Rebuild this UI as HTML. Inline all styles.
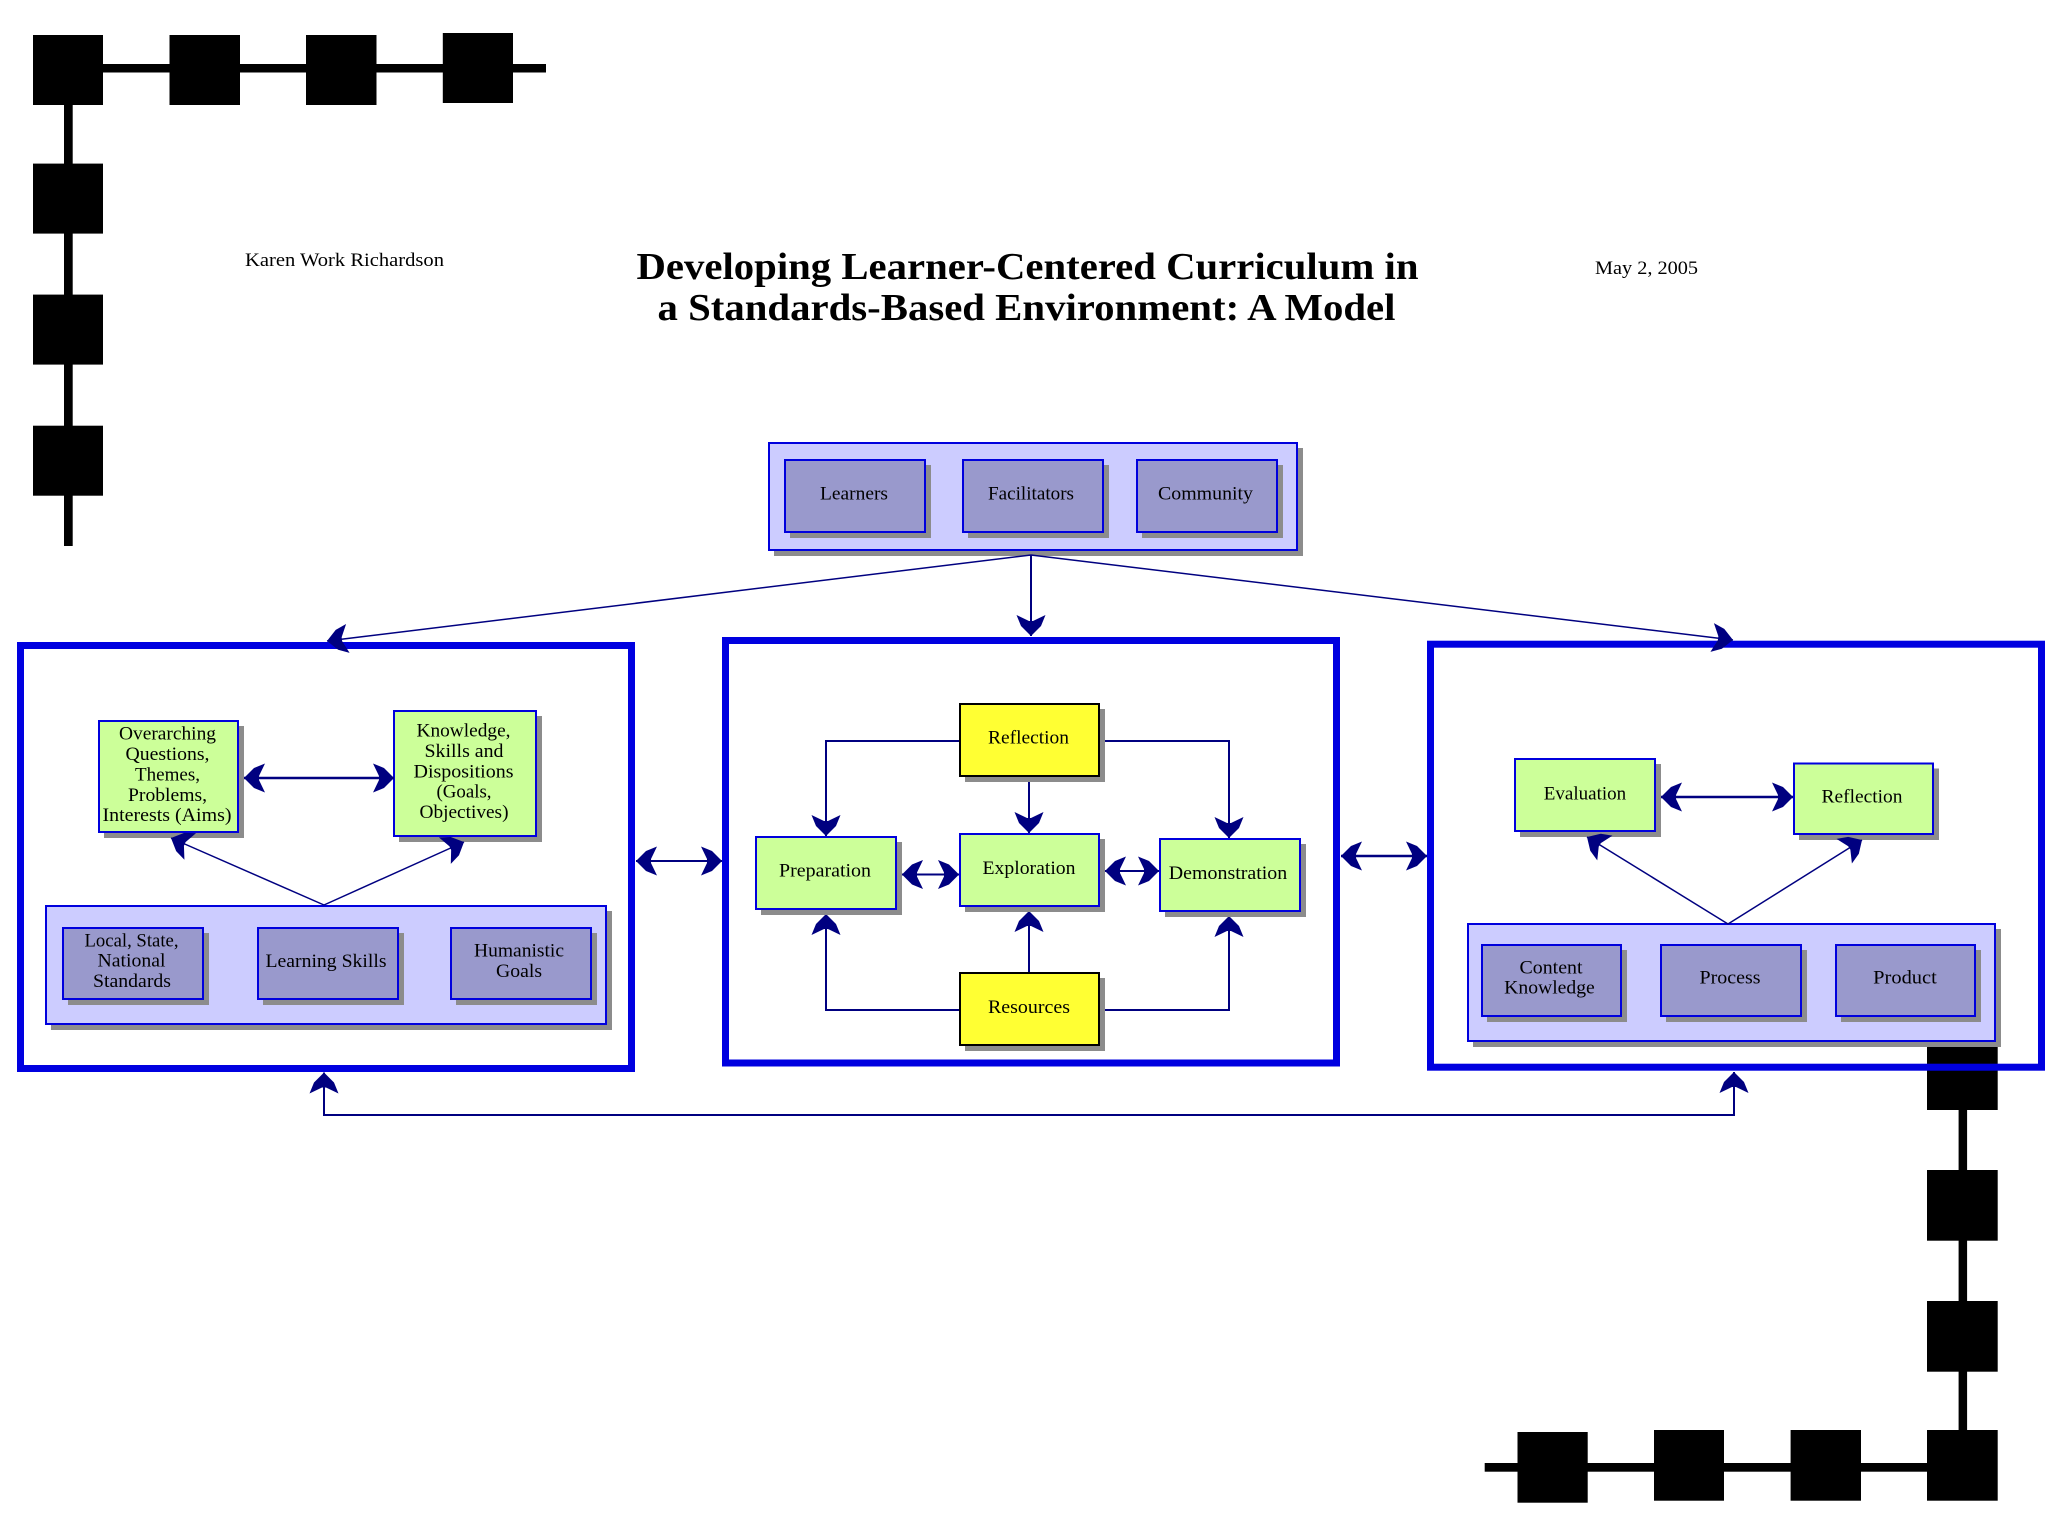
<!DOCTYPE html>
<html lang="en"><head><meta charset="utf-8"><title>Developing Learner-Centered Curriculum</title>
<style>
html,body{margin:0;padding:0;background:#fff}
svg{display:block;filter:blur(.35px)}
text{font-family:"Liberation Serif",serif;fill:#000;text-anchor:middle}
.t{font-size:19px}
.h{font-size:38px;font-weight:bold}
.s{fill:#8c8c8c}
.l{fill:#ccccff;stroke:#0000dd;stroke-width:2}
.b{fill:#9999cc;stroke:#0000dd;stroke-width:2}
.g{fill:#ccff99;stroke:#0000dd;stroke-width:2}
.y{fill:#ffff33;stroke:#000;stroke-width:2}
.f{fill:none;stroke:#0000e0;stroke-width:7}
.a{fill:none;stroke:#000080;stroke-width:2}
.d{fill:none;stroke:#000080;stroke-width:2.6}
.n{fill:none;stroke:#000080;stroke-width:1.5}
</style></head><body>
<svg width="2048" height="1536" viewBox="0 0 2048 1536" xmlns="http://www.w3.org/2000/svg">
<defs>
<marker id="m" markerUnits="userSpaceOnUse" markerWidth="40" markerHeight="40" refX="30" refY="20" orient="auto-start-reverse" viewBox="0 0 40 40" overflow="visible">
<path d="M30 20 L20 10 L9 5.5 L15 18 L15 22 L9 34.5 L20 30 Z" fill="#000080"/>
</marker>
</defs>
<rect width="2048" height="1536" fill="#fff"/>

<!-- top-left ornament -->
<g fill="#000">
<rect x="33" y="64" width="513" height="8.5"/>
<rect x="64" y="35" width="8.7" height="511"/>
<rect x="33" y="35" width="70" height="70"/>
<rect x="169.5" y="35" width="70.5" height="70"/>
<rect x="306" y="35" width="70.5" height="70"/>
<rect x="442.8" y="33" width="70.2" height="70"/>
<rect x="33" y="163.6" width="70" height="70"/>
<rect x="33" y="294.6" width="70" height="70"/>
<rect x="33" y="425.7" width="70" height="70"/>
<!-- bottom-right ornament -->
<rect x="1484.7" y="1463" width="480" height="8.7"/>
<rect x="1958.6" y="1060" width="8.5" height="390"/>
<rect x="1927" y="1046" width="70.7" height="64"/>
<rect x="1927" y="1170" width="70.7" height="70.7"/>
<rect x="1927" y="1301" width="70.7" height="70.7"/>
<rect x="1927" y="1430" width="70.7" height="70.7"/>
<rect x="1790.6" y="1430" width="70.4" height="70.7"/>
<rect x="1654" y="1430" width="70" height="70.7"/>
<rect x="1517.5" y="1432" width="70.2" height="70.7"/>
</g>

<!-- headings -->
<text class="t" x="344.5" y="266" textLength="199" lengthAdjust="spacingAndGlyphs">Karen Work Richardson</text>
<text class="t" x="1646.5" y="274" textLength="103" lengthAdjust="spacingAndGlyphs">May 2, 2005</text>
<text class="h" x="1027.5" y="279" textLength="782" lengthAdjust="spacingAndGlyphs">Developing Learner-Centered Curriculum in</text>
<text class="h" x="1026.5" y="320" textLength="738" lengthAdjust="spacingAndGlyphs">a Standards-Based Environment: A Model</text>

<!-- top group -->
<rect class="s" x="774" y="448" width="529" height="108"/>
<rect class="l" x="769" y="443" width="528" height="107"/>
<rect class="s" x="790" y="465" width="141" height="73"/><rect class="b" x="785" y="460" width="140" height="72"/>
<rect class="s" x="968" y="465" width="141" height="73"/><rect class="b" x="963" y="460" width="140" height="72"/>
<rect class="s" x="1142" y="465" width="141" height="73"/><rect class="b" x="1137" y="460" width="140" height="72"/>
<text class="t" x="854" y="499.5" textLength="68" lengthAdjust="spacingAndGlyphs">Learners</text>
<text class="t" x="1031" y="499.5" textLength="86" lengthAdjust="spacingAndGlyphs">Facilitators</text>
<text class="t" x="1205.5" y="499.5" textLength="95" lengthAdjust="spacingAndGlyphs">Community</text>

<!-- frames -->
<rect class="f" x="20.5" y="645.5" width="611" height="423"/>
<rect class="f" x="725.5" y="640.5" width="611" height="422.5"/>
<rect class="f" x="1430.5" y="644.2" width="611" height="423"/>

<!-- top connectors -->
<line class="n" x1="1031" y1="555" x2="327" y2="641" marker-end="url(#m)"/>
<line class="a" x1="1031" y1="555" x2="1031" y2="636" marker-end="url(#m)"/>
<line class="n" x1="1031" y1="555" x2="1733" y2="640" marker-end="url(#m)"/>

<!-- left frame content -->
<rect class="s" x="104" y="726" width="140" height="112"/><rect class="g" x="99" y="721" width="139" height="111"/>
<rect class="s" x="399" y="716" width="143" height="126"/><rect class="g" x="394" y="711" width="142" height="125"/>
<text class="t" x="167.5" y="739.5" textLength="97" lengthAdjust="spacingAndGlyphs">Overarching</text>
<text class="t" x="167.5" y="760" textLength="84" lengthAdjust="spacingAndGlyphs">Questions,</text>
<text class="t" x="167.5" y="780.5" textLength="65" lengthAdjust="spacingAndGlyphs">Themes,</text>
<text class="t" x="167.5" y="801" textLength="79" lengthAdjust="spacingAndGlyphs">Problems,</text>
<text class="t" x="167" y="821" textLength="129" lengthAdjust="spacingAndGlyphs">Interests (Aims)</text>
<text class="t" x="463.5" y="736.5" textLength="94" lengthAdjust="spacingAndGlyphs">Knowledge,</text>
<text class="t" x="464" y="757" textLength="79" lengthAdjust="spacingAndGlyphs">Skills and</text>
<text class="t" x="463.5" y="777.5" textLength="100" lengthAdjust="spacingAndGlyphs">Dispositions</text>
<text class="t" x="464" y="797.5" textLength="55" lengthAdjust="spacingAndGlyphs">(Goals,</text>
<text class="t" x="464" y="818" textLength="89" lengthAdjust="spacingAndGlyphs">Objectives)</text>
<rect class="s" x="51" y="911" width="561" height="119"/><rect class="l" x="46" y="906" width="560" height="118"/>
<rect class="s" x="68" y="933" width="141" height="72"/><rect class="b" x="63" y="928" width="140" height="71"/>
<rect class="s" x="263" y="933" width="141" height="72"/><rect class="b" x="258" y="928" width="140" height="71"/>
<rect class="s" x="456" y="933" width="141" height="72"/><rect class="b" x="451" y="928" width="140" height="71"/>
<text class="t" x="131.5" y="946.5" textLength="94" lengthAdjust="spacingAndGlyphs">Local, State,</text>
<text class="t" x="131.5" y="966.5" textLength="68" lengthAdjust="spacingAndGlyphs">National</text>
<text class="t" x="132" y="987" textLength="78" lengthAdjust="spacingAndGlyphs">Standards</text>
<text class="t" x="326" y="967" textLength="121" lengthAdjust="spacingAndGlyphs">Learning Skills</text>
<text class="t" x="519" y="956.5" textLength="90" lengthAdjust="spacingAndGlyphs">Humanistic</text>
<text class="t" x="519" y="977" textLength="46" lengthAdjust="spacingAndGlyphs">Goals</text>
<line class="d" x1="244" y1="778" x2="394" y2="778" marker-start="url(#m)" marker-end="url(#m)"/>
<polyline class="n" points="171,838 324,905" marker-start="url(#m)"/>
<polyline class="n" points="324,905 464,842" marker-end="url(#m)"/>

<!-- centre frame content -->
<polyline class="a" points="959,741 826,741 826,836" marker-end="url(#m)"/>
<polyline class="a" points="1105,741 1229,741 1229,838" marker-end="url(#m)"/>
<line class="a" x1="1029" y1="781" x2="1029" y2="833" marker-end="url(#m)"/>
<polyline class="a" points="959,1010 826,1010 826,914" marker-end="url(#m)"/>
<polyline class="a" points="1105,1010 1229,1010 1229,916" marker-end="url(#m)"/>
<line class="a" x1="1029" y1="972" x2="1029" y2="911" marker-end="url(#m)"/>
<rect class="s" x="965" y="709" width="140" height="73"/><rect class="y" x="960" y="704" width="139" height="72"/>
<rect class="s" x="965" y="978" width="140" height="73"/><rect class="y" x="960" y="973" width="139" height="72"/>
<rect class="s" x="761" y="842" width="141" height="73"/><rect class="g" x="756" y="837" width="140" height="72"/>
<rect class="s" x="965" y="839" width="140" height="73"/><rect class="g" x="960" y="834" width="139" height="72"/>
<rect class="s" x="1165" y="844" width="141" height="73"/><rect class="g" x="1160" y="839" width="140" height="72"/>
<text class="t" x="1028.5" y="743.5" textLength="81" lengthAdjust="spacingAndGlyphs">Reflection</text>
<text class="t" x="1029" y="1013" textLength="82" lengthAdjust="spacingAndGlyphs">Resources</text>
<text class="t" x="825" y="876.5" textLength="92" lengthAdjust="spacingAndGlyphs">Preparation</text>
<text class="t" x="1029" y="874" textLength="93" lengthAdjust="spacingAndGlyphs">Exploration</text>
<text class="t" x="1228" y="879" textLength="118.5" lengthAdjust="spacingAndGlyphs">Demonstration</text>
<line class="a" x1="902" y1="874.5" x2="959" y2="874.5" marker-start="url(#m)" marker-end="url(#m)"/>
<line class="a" x1="1105" y1="871" x2="1159" y2="871" marker-start="url(#m)" marker-end="url(#m)"/>

<!-- right frame content -->
<rect class="s" x="1520" y="764" width="141" height="73"/><rect class="g" x="1515" y="759" width="140" height="72"/>
<rect class="s" x="1799" y="768.5" width="140" height="71.5"/><rect class="g" x="1794" y="763.5" width="139" height="70.5"/>
<text class="t" x="1585" y="799.5" textLength="82.4" lengthAdjust="spacingAndGlyphs">Evaluation</text>
<text class="t" x="1862" y="802.5" textLength="81" lengthAdjust="spacingAndGlyphs">Reflection</text>
<rect class="s" x="1473" y="929" width="528" height="118"/><rect class="l" x="1468" y="924" width="527" height="117"/>
<rect class="s" x="1487" y="950" width="140" height="72"/><rect class="b" x="1482" y="945" width="139" height="71"/>
<rect class="s" x="1666" y="950" width="141" height="72"/><rect class="b" x="1661" y="945" width="140" height="71"/>
<rect class="s" x="1841" y="950" width="140" height="72"/><rect class="b" x="1836" y="945" width="139" height="71"/>
<text class="t" x="1551" y="973.5" textLength="63" lengthAdjust="spacingAndGlyphs">Content</text>
<text class="t" x="1549.5" y="993.5" textLength="90.6" lengthAdjust="spacingAndGlyphs">Knowledge</text>
<text class="t" x="1730" y="983.5" textLength="61" lengthAdjust="spacingAndGlyphs">Process</text>
<text class="t" x="1905" y="983.5" textLength="63.6" lengthAdjust="spacingAndGlyphs">Product</text>
<line class="d" x1="1661" y1="797" x2="1793" y2="797" marker-start="url(#m)" marker-end="url(#m)"/>
<line class="n" x1="1728" y1="924" x2="1587" y2="837" marker-end="url(#m)"/>
<line class="n" x1="1728" y1="924" x2="1862" y2="840" marker-end="url(#m)"/>

<!-- between frames -->
<line class="a" x1="636" y1="861" x2="722" y2="861" marker-start="url(#m)" marker-end="url(#m)"/>
<line class="d" x1="1341" y1="856" x2="1427" y2="856" marker-start="url(#m)" marker-end="url(#m)"/>
<polyline class="a" points="324,1072.5 324,1115 1734,1115 1734,1072" marker-start="url(#m)" marker-end="url(#m)"/>
</svg>
</body></html>
